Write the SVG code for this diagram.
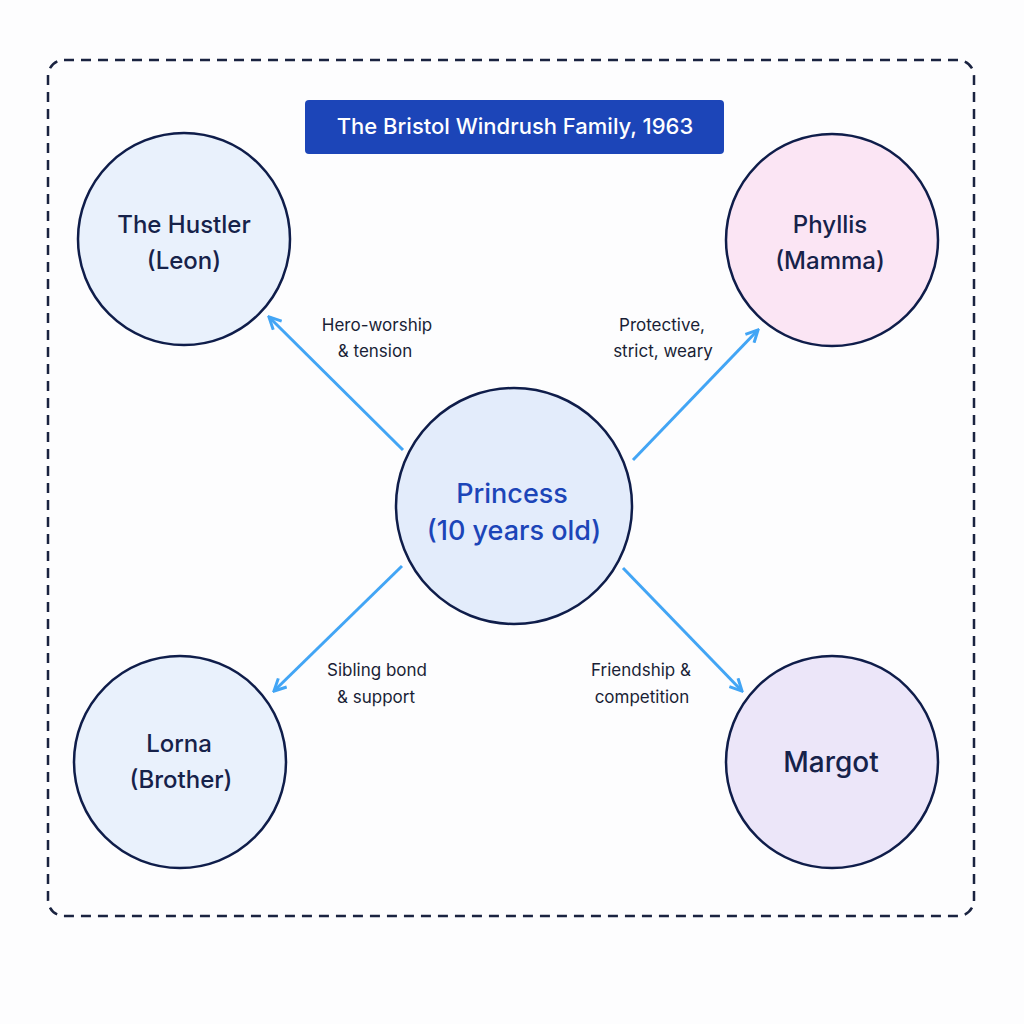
<svg xmlns="http://www.w3.org/2000/svg" width="1024" height="1024" viewBox="0 0 1024 1024">
<defs>
<marker id="ah" viewBox="0 0 10 10" refX="8" refY="5" markerWidth="5" markerHeight="5" orient="auto-start-reverse" markerUnits="strokeWidth">
<path d="M1,1 L9,5 L1,9" fill="none" stroke="#42a5f5" stroke-width="2"/>
</marker>
<style>
.node{stroke:#0f1d4a;stroke-width:2.5}
.t{font-family:Inter,"Liberation Sans",sans-serif;font-size:24px;font-weight:500;fill:#16224a;text-anchor:middle}
.l{font-family:Inter,"Liberation Sans",sans-serif;font-size:17px;fill:#1a1f36;text-anchor:middle}
.c{stroke:#42a5f5;stroke-width:3;fill:none;marker-end:url(#ah)}
</style>
</defs>
<rect width="1024" height="1024" fill="#fdfdfe"/>
<rect x="48" y="60" width="926" height="856" rx="16" fill="none" stroke="#1a2340" stroke-width="2.5" stroke-dasharray="10 7"/>
<g id="title">
<rect x="305" y="100" width="419" height="54" rx="4" fill="#1c45b8"/>
<text x="515" y="134" font-family="Inter,'Liberation Sans',sans-serif" font-size="22" font-weight="500" fill="#fff" text-anchor="middle">The Bristol Windrush Family, 1963</text>
</g>
<g id="connectors">
<line class="c" x1="403" y1="450" x2="270" y2="318"/>
<line class="c" x1="633" y1="460" x2="757" y2="331"/>
<line class="c" x1="402" y1="566" x2="275" y2="690"/>
<line class="c" x1="623" y1="568" x2="741" y2="690"/>
<text class="l" x="377" y="331">Hero-worship</text><text class="l" x="375" y="357">&amp; tension</text>
<text class="l" x="662" y="331">Protective,</text><text class="l" x="663" y="357">strict, weary</text>
<text class="l" x="377" y="676">Sibling bond</text><text class="l" x="376" y="703">&amp; support</text>
<text class="l" x="641" y="676">Friendship &amp;</text><text class="l" x="642" y="703">competition</text>
</g>
<g id="princess"><circle class="node" cx="514" cy="506" r="118" fill="#e3ecfb"/>
<text class="t" x="512" y="503" fill="#1c45b8" style="fill:#1c45b8;font-size:27px">Princess</text><text class="t" style="fill:#1c45b8;font-size:27px" x="514" y="540">(10 years old)</text></g>
<g id="hustler"><circle class="node" cx="184" cy="239" r="106" fill="#e9f1fc"/>
<text class="t" x="184" y="233">The Hustler</text><text class="t" x="184" y="269">(Leon)</text></g>
<g id="phyllis"><circle class="node" cx="832" cy="240" r="106" fill="#fbe5f4"/>
<text class="t" x="830" y="233">Phyllis</text><text class="t" x="830" y="269">(Mamma)</text></g>
<g id="lorna"><circle class="node" cx="180" cy="762" r="106" fill="#e9f1fc"/>
<text class="t" x="179" y="752">Lorna</text><text class="t" x="181" y="788">(Brother)</text></g>
<g id="margot"><circle class="node" cx="832" cy="762" r="106" fill="#ece6f9"/>
<text class="t" x="831" y="772" style="font-size:28px">Margot</text></g>
</svg>
